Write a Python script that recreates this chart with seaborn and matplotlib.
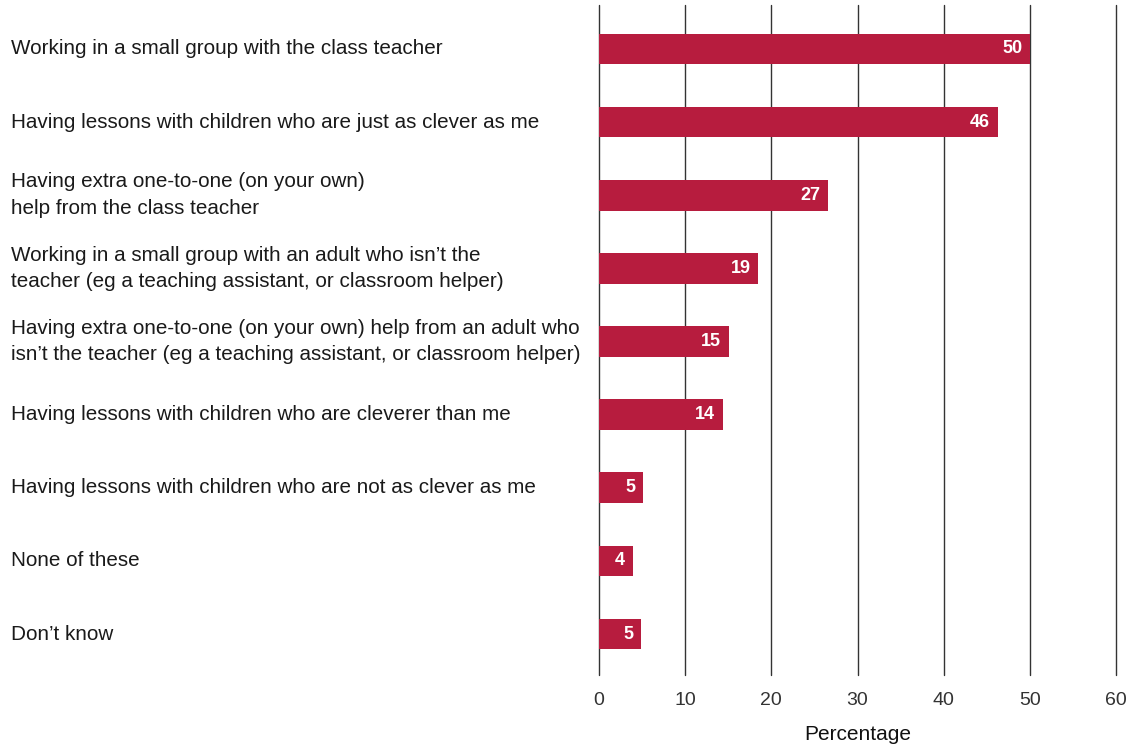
import matplotlib
matplotlib.use("Agg")
import matplotlib.pyplot as plt
import seaborn as sns
import pandas as pd

categories = [
    "Working in a small group with the class teacher",
    "Having lessons with children who are just as clever as me",
    "Having extra one-to-one (on your own)\nhelp from the class teacher",
    "Working in a small group with an adult who isn\u2019t the\nteacher (eg a teaching assistant, or classroom helper)",
    "Having extra one-to-one (on your own) help from an adult who\nisn\u2019t the teacher (eg a teaching assistant, or classroom helper)",
    "Having lessons with children who are cleverer than me",
    "Having lessons with children who are not as clever as me",
    "None of these",
    "Don\u2019t know",
]
values = [50.0, 46.3, 26.6, 18.5, 15.1, 14.4, 5.1, 3.9, 4.9]
value_labels = ["50", "46", "27", "19", "15", "14", "5", "4", "5"]
xticks = [0, 10, 20, 30, 40, 50, 60]

df = pd.DataFrame({"category": categories, "value": values})

sns.set_theme(style="white")
plt.rcParams["font.family"] = ["Liberation Sans", "DejaVu Sans"]

fig = plt.figure(figsize=(11.31, 7.47), dpi=100)
ax = fig.add_axes([599 / 1131, 1 - 675 / 747, (1116 - 599) / 1131, (675 - 5) / 747])

bar_color = "#B71C3E"
sns.barplot(data=df, x="value", y="category", orient="h", color=bar_color,
            width=0.42, saturation=1, linewidth=0, ax=ax, zorder=3)

ax.set_xlim(0, 60)
ax.set_ylim(8.56, -0.6)
ax.set_xticks(xticks)
ax.set_xticklabels([str(t) for t in xticks], fontsize=14, color="#333333")
ax.tick_params(axis="x", length=0, pad=12)
ax.set_yticks([])
ax.set_ylabel("")
ax.set_xlabel("Percentage", fontsize=15, color="#111111", labelpad=12)
for s in ax.spines.values():
    s.set_visible(False)
ax.grid(False)
for t in xticks:
    ax.axvline(t, color="#333333", lw=1.0, zorder=1, clip_on=False)

for i, (v, lab) in enumerate(zip(values, value_labels)):
    ax.text(v - 0.9, i, lab, ha="right", va="center", color="white",
            fontsize=13, fontweight="bold", zorder=4)

for i, cat in enumerate(categories):
    y_disp = ax.transData.transform((0, i))[1]
    y_fig = fig.transFigure.inverted().transform((0, y_disp))[1]
    fig.text(11 / 1131, y_fig, cat, ha="left", va="center", fontsize=14.9,
             color="#1a1a1a", linespacing=1.5)

fig.savefig("out.png", dpi=100, facecolor="white")
